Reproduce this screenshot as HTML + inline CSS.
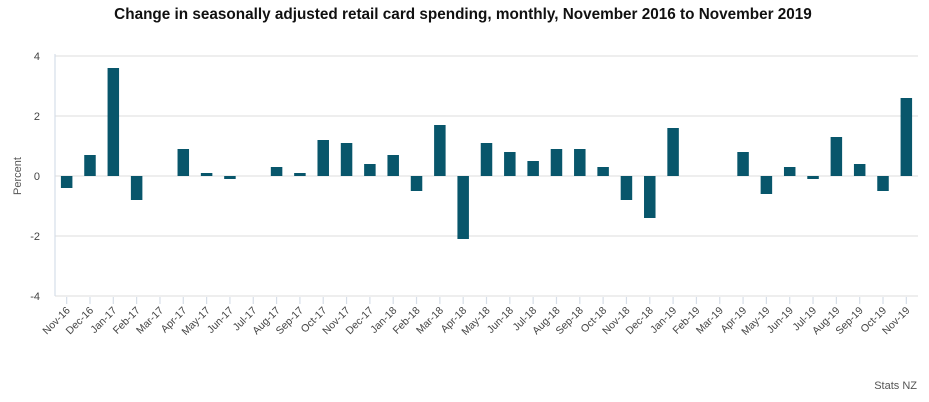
<!DOCTYPE html>
<html><head><meta charset="utf-8"><style>
body{margin:0;background:#fff;font-family:"Liberation Sans",sans-serif;}
svg{display:block}
</style></head><body>
<svg id="chart" width="929" height="402">
<text x="463" y="19" text-anchor="middle" font-size="15.3" font-weight="bold" fill="#111">Change in seasonally adjusted retail card spending, monthly, November 2016 to November 2019</text>
<text transform="translate(21,176) rotate(-90)" text-anchor="middle" font-size="11" fill="#555">Percent</text>
<text x="917" y="389" text-anchor="end" font-size="11" fill="#555">Stats NZ</text>
<g id="grid"></g><g id="bars"></g><g id="xax"></g>
</svg>
<script>
const categories=["Nov-16","Dec-16","Jan-17","Feb-17","Mar-17","Apr-17","May-17","Jun-17","Jul-17","Aug-17","Sep-17","Oct-17","Nov-17","Dec-17","Jan-18","Feb-18","Mar-18","Apr-18","May-18","Jun-18","Jul-18","Aug-18","Sep-18","Oct-18","Nov-18","Dec-18","Jan-19","Feb-19","Mar-19","Apr-19","May-19","Jun-19","Jul-19","Aug-19","Sep-19","Oct-19","Nov-19"];
const values=[-0.4,0.7,3.6,-0.8,0,0.9,0.1,-0.1,0,0.3,0.1,1.2,1.1,0.4,0.7,-0.5,1.7,-2.1,1.1,0.8,0.5,0.9,0.9,0.3,-0.8,-1.4,1.6,0,0,0.8,-0.6,0.3,-0.1,1.3,0.4,-0.5,2.6];
const yTicks=[4,2,0,-2,-4];
const NS="http://www.w3.org/2000/svg";
const L=55,R=918,T=56,B=296;
const y=v=>T+(4-v)/8*(B-T);
const step=(R-L)/categories.length;
const x=i=>L+step*(i+0.5);
function mk(t,a,p){const e=document.createElementNS(NS,t);for(const k in a)e.setAttribute(k,a[k]);p.appendChild(e);return e;}
const g=document.getElementById('grid'),b=document.getElementById('bars'),xa=document.getElementById('xax');
yTicks.forEach(v=>{
 const l=mk('line',{x1:L,x2:R,y1:y(v),y2:y(v),stroke:'#e3e3e3','stroke-width':1.2},g);
 
 
 const t=mk('text',{x:40,y:y(v)+4,'text-anchor':'end','font-size':11,fill:'#444'},g);
 t.textContent=v;
 
 
});
const ax=mk('line',{x1:L,x2:L,y1:T-2,y2:B,stroke:'#d6dee8','stroke-width':1.2},g);


const bw=11.5;
values.forEach((v,i)=>{
 const y0=Math.min(y(0),y(v)),h=Math.abs(y(v)-y(0));
 const r=mk('rect',{x:x(i)-bw/2,y:y0,width:bw,height:Math.max(h,0),fill:'#08566b'},b);
 
 
});
categories.forEach((c,i)=>{
 const tk=mk('line',{x1:x(i),x2:x(i),y1:B+1,y2:B+8,stroke:'#d6dee8','stroke-width':1.2},xa);
 
 
 const t=mk('text',{transform:`translate(${x(i)+4},${B+15}) rotate(-45)`,'text-anchor':'end','font-size':10.5,fill:'#444'},xa);
 t.textContent=c;
 
 
});
</script>
</body></html>
